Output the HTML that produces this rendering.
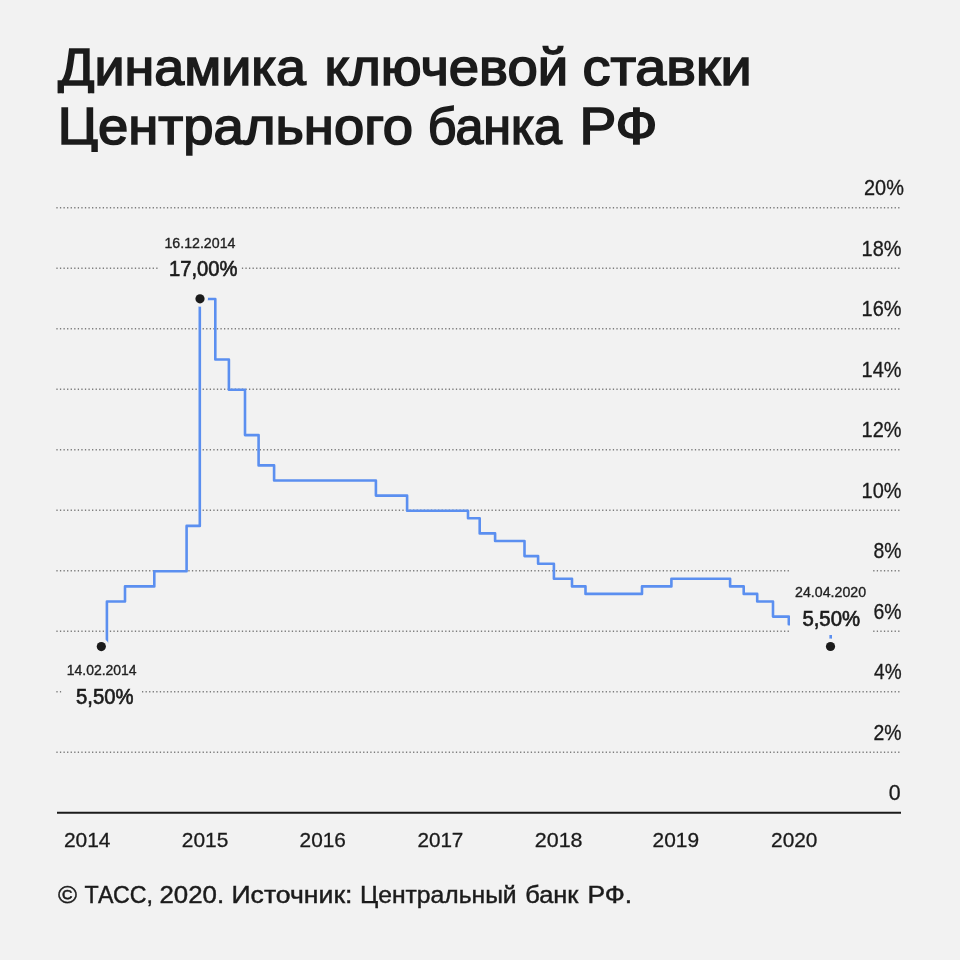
<!DOCTYPE html>
<html lang="ru">
<head>
<meta charset="utf-8">
<title>Динамика ключевой ставки Центрального банка РФ</title>
<style>
html,body{margin:0;padding:0;background:#f2f2f2;}
body{width:960px;height:960px;overflow:hidden;}
svg{display:block;}
text{font-family:"Liberation Sans",sans-serif;fill:#1b1b1b;}
.title{font-size:51.5px;stroke:#1b1b1b;stroke-width:1.6px;stroke-linejoin:miter;}
.ylab{font-size:21.4px;stroke:#1b1b1b;stroke-width:.3px;}
.xlab{font-size:20.6px;stroke:#1b1b1b;stroke-width:.3px;}
.date{font-size:14.3px;fill:#222;stroke:#222;stroke-width:.35px;}
.val{font-size:21.4px;stroke:#1b1b1b;stroke-width:.65px;}
.foot{font-size:24.5px;stroke:#1b1b1b;stroke-width:.45px;}
.grid line{stroke:#7d7d7d;stroke-width:1.5;stroke-dasharray:1.3 2.267;}
</style>
</head>
<body>
<svg width="960" height="960" viewBox="0 0 960 960">
<rect width="960" height="960" fill="#f2f2f2"/>

<defs><clipPath id="c1"><rect x="0" y="0" width="960" height="93.2"/></clipPath><clipPath id="c2"><rect x="0" y="95" width="98" height="57"/><rect x="98" y="95" width="862" height="80"/></clipPath></defs>
<g class="title">
<g clip-path="url(#c1)">
<text x="58.06" y="85.0" textLength="247.80" lengthAdjust="spacingAndGlyphs">Динамика</text>
<text x="324.59" y="85.0" textLength="243.55" lengthAdjust="spacingAndGlyphs">ключевой</text>
<text x="582.48" y="85.0" textLength="169.16" lengthAdjust="spacingAndGlyphs">ставки</text>
</g><g clip-path="url(#c2)">
<text x="57.70" y="144.2" textLength="355.38" lengthAdjust="spacingAndGlyphs">Центрального</text>
<text x="427.87" y="144.2" textLength="134.14" lengthAdjust="spacingAndGlyphs">банка</text>
<text x="579.44" y="144.2" textLength="78.05" lengthAdjust="spacingAndGlyphs">РФ</text>
</g></g>
<g class="grid">
<line x1="56.35" y1="752.21" x2="901.2" y2="752.21"/>
<line x1="56.35" y1="691.72" x2="901.2" y2="691.72"/>
<line x1="56.35" y1="631.23" x2="901.2" y2="631.23"/>
<line x1="56.35" y1="570.74" x2="901.2" y2="570.74"/>
<line x1="56.35" y1="510.25" x2="901.2" y2="510.25"/>
<line x1="56.35" y1="449.76" x2="901.2" y2="449.76"/>
<line x1="56.35" y1="389.27" x2="901.2" y2="389.27"/>
<line x1="56.35" y1="328.78" x2="901.2" y2="328.78"/>
<line x1="56.35" y1="268.29" x2="901.2" y2="268.29"/>
<line x1="56.35" y1="207.80" x2="901.2" y2="207.80"/>
</g>
<g class="ylab">
<text x="864.00" y="195.1" textLength="39.90" lengthAdjust="spacingAndGlyphs">20%</text>
<text x="861.56" y="255.6" textLength="39.97" lengthAdjust="spacingAndGlyphs">18%</text>
<text x="861.56" y="316.1" textLength="39.97" lengthAdjust="spacingAndGlyphs">16%</text>
<text x="861.56" y="376.6" textLength="39.97" lengthAdjust="spacingAndGlyphs">14%</text>
<text x="861.56" y="437.1" textLength="39.97" lengthAdjust="spacingAndGlyphs">12%</text>
<text x="861.56" y="497.6" textLength="39.97" lengthAdjust="spacingAndGlyphs">10%</text>
<text x="873.55" y="558.0" textLength="28.06" lengthAdjust="spacingAndGlyphs">8%</text>
<text x="873.43" y="618.5" textLength="28.07" lengthAdjust="spacingAndGlyphs">6%</text>
<text x="874.06" y="679.0" textLength="27.51" lengthAdjust="spacingAndGlyphs">4%</text>
<text x="873.47" y="739.5" textLength="28.09" lengthAdjust="spacingAndGlyphs">2%</text>
<text x="888.72" y="799.8" textLength="11.88" lengthAdjust="spacingAndGlyphs">0</text>
</g>
<path d="M101.4 646.9 L106.9 646.9 L106.9 601.5 L125.0 601.5 L125.0 586.4 L154.3 586.4 L154.3 571.2 L186.6 571.2 L186.6 525.9 L199.8 525.9 L199.8 299.0 L215.3 299.0 L215.3 359.5 L228.9 359.5 L228.9 389.8 L245.0 389.8 L245.0 435.1 L258.6 435.1 L258.6 465.4 L274.1 465.4 L274.1 480.5 L375.9 480.5 L375.9 495.6 L407.1 495.6 L407.1 510.8 L468.0 510.8 L468.0 518.3 L479.7 518.3 L479.7 533.4 L495.1 533.4 L495.1 541.0 L524.5 541.0 L524.5 556.1 L538.1 556.1 L538.1 563.7 L553.9 563.7 L553.9 578.8 L572.0 578.8 L572.0 586.4 L585.5 586.4 L585.5 593.9 L642.0 593.9 L642.0 586.4 L671.4 586.4 L671.4 578.8 L730.1 578.8 L730.1 586.4 L743.7 586.4 L743.7 593.9 L757.2 593.9 L757.2 601.5 L773.0 601.5 L773.0 616.6 L788.8 616.6 L788.8 624.2 L806.9 624.2 L806.9 631.7 L830.7 631.7 L830.7 646.9" fill="none" stroke="#5b8ff0" stroke-width="2.6" stroke-linejoin="round"/>
<rect x="158" y="224" width="83.30" height="63.00" fill="#f2f2f2"/>
<rect x="61.5" y="658.5" width="80.50" height="63.50" fill="#f2f2f2"/>
<rect x="790" y="568" width="81.30" height="67.00" fill="#f2f2f2"/>
<circle cx="200.0" cy="298.8" r="8" fill="#f2f2f2"/>
<circle cx="200.0" cy="298.8" r="4.6" fill="#1b1b1b"/>
<circle cx="101.3" cy="646.6" r="8" fill="#f2f2f2"/>
<circle cx="101.3" cy="646.6" r="4.6" fill="#1b1b1b"/>
<circle cx="830.5" cy="646.5" r="8" fill="#f2f2f2"/>
<circle cx="830.5" cy="646.5" r="4.6" fill="#1b1b1b"/>
<text class="date" x="164.45" y="247.8" textLength="70.99" lengthAdjust="spacingAndGlyphs">16.12.2014</text>
<text class="val" x="169.03" y="276.3" textLength="68.49" lengthAdjust="spacingAndGlyphs">17,00%</text>
<text class="date" x="66.77" y="675.0" textLength="69.87" lengthAdjust="spacingAndGlyphs">14.02.2014</text>
<text class="val" x="76.00" y="703.5" textLength="57.48" lengthAdjust="spacingAndGlyphs">5,50%</text>
<text class="date" x="795.11" y="597.3" textLength="70.93" lengthAdjust="spacingAndGlyphs">24.04.2020</text>
<text class="val" x="802.39" y="625.6" textLength="57.78" lengthAdjust="spacingAndGlyphs">5,50%</text>
<line x1="57" y1="812.7" x2="901" y2="812.7" stroke="#1b1b1b" stroke-width="2.1"/>
<g class="xlab">
<text x="63.92" y="846.5" textLength="46.60" lengthAdjust="spacingAndGlyphs">2014</text>
<text x="181.79" y="846.5" textLength="46.48" lengthAdjust="spacingAndGlyphs">2015</text>
<text x="299.60" y="846.5" textLength="46.34" lengthAdjust="spacingAndGlyphs">2016</text>
<text x="417.40" y="846.5" textLength="45.99" lengthAdjust="spacingAndGlyphs">2017</text>
<text x="534.75" y="846.5" textLength="47.81" lengthAdjust="spacingAndGlyphs">2018</text>
<text x="652.59" y="846.5" textLength="46.46" lengthAdjust="spacingAndGlyphs">2019</text>
<text x="771.12" y="846.5" textLength="46.36" lengthAdjust="spacingAndGlyphs">2020</text>
</g>
<g class="foot">
<text x="58.08" y="903.3" textLength="19.04" lengthAdjust="spacingAndGlyphs">©</text>
<text x="84.60" y="903.3" textLength="68.35" lengthAdjust="spacingAndGlyphs">ТАСС,</text>
<text x="159.47" y="903.3" textLength="64.66" lengthAdjust="spacingAndGlyphs">2020.</text>
<text x="231.50" y="903.3" textLength="120.93" lengthAdjust="spacingAndGlyphs">Источник:</text>
<text x="359.96" y="903.3" textLength="156.68" lengthAdjust="spacingAndGlyphs">Центральный</text>
<text x="525.26" y="903.3" textLength="53.23" lengthAdjust="spacingAndGlyphs">банк</text>
<text x="587.42" y="903.3" textLength="44.70" lengthAdjust="spacingAndGlyphs">РФ.</text>
</g>
</svg>
</body>
</html>
